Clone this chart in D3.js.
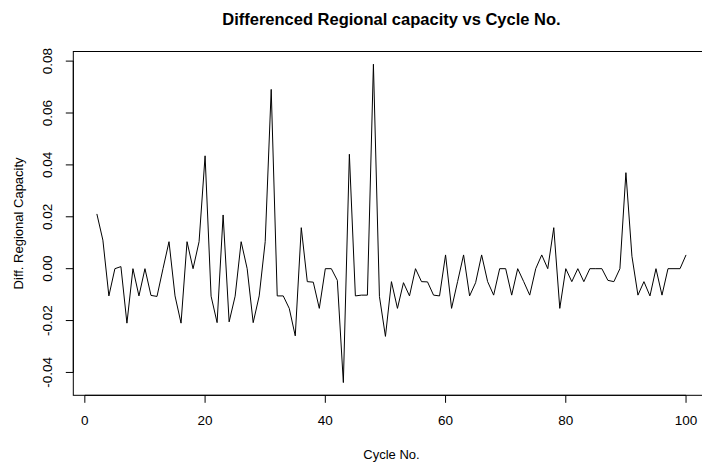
<!DOCTYPE html>
<html>
<head>
<meta charset="utf-8">
<script src="https://cdn.jsdelivr.net/npm/d3@7/dist/d3.min.js"></script>
<style>
  html, body { margin: 0; padding: 0; background: #fff; }
  svg { display: block; }
  text { font-family: "Liberation Sans", Arial, sans-serif; fill: #000; }
</style>
</head>
<body>
<svg id="chart" width="702" height="462"></svg>
<script>
// ---- data ----
const cycles = d3.range(2, 101); // 2..100
const diffCapacity = [
  0.0211, 0.0110, -0.0105, 0.0000, 0.0008, -0.0210, 0.0000, -0.0105, 0.0000, -0.0103,
  -0.0107, 0.0000, 0.0104, -0.0105, -0.0210, 0.0104, 0.0000, 0.0104, 0.0435, -0.0106,
  -0.0208, 0.0207, -0.0205, -0.0106, 0.0104, 0.0000, -0.0208, -0.0105, 0.0104, 0.0691,
  -0.0105, -0.0105, -0.0153, -0.0259, 0.0158, -0.0050, -0.0052, -0.0153, 0.0000, 0.0000,
  -0.0045, -0.0439, 0.0441, -0.0105, -0.0102, -0.0102, 0.0788, -0.0107, -0.0261, -0.0050,
  -0.0153, -0.0054, -0.0105, 0.0000, -0.0050, -0.0051, -0.0102, -0.0105, 0.0053, -0.0153,
  -0.0050, 0.0053, -0.0105, -0.0054, 0.0053, -0.0050, -0.0102, 0.0000, 0.0000, -0.0102,
  0.0000, -0.0050, -0.0102, 0.0000, 0.0053, 0.0000, 0.0158, -0.0153, 0.0000, -0.0050,
  0.0000, -0.0050, 0.0000, 0.0000, 0.0000, -0.0045, -0.0050, 0.0000, 0.0370, 0.0048,
  -0.0102, -0.0050, -0.0105, 0.0000, -0.0102, 0.0000, 0.0000, 0.0000, 0.0053
];
const xTicks = [0, 20, 40, 60, 80, 100];
const yTicks = [-0.04, -0.02, 0.00, 0.02, 0.04, 0.06, 0.08];
const titleText = "Differenced Regional capacity vs Cycle No.";
const xLabel = "Cycle No.";
const yLabel = "Diff. Regional Capacity";

// ---- layout ----
const plot = { left: 73.3, right: 709.6, top: 51.5, bottom: 395.3 };
const svg = d3.select("#chart");

// R-style 4% range extension
function ext(arr) {
  const [a, b] = d3.extent(arr);
  const d = (b - a) * 0.04;
  return [a - d, b + d];
}
const x = d3.scaleLinear().domain(ext(cycles)).range([plot.left, plot.right]);
const y = d3.scaleLinear().domain(ext(diffCapacity)).range([plot.bottom, plot.top]);

const fmt = v => {
  const s = Math.abs(v).toFixed(2);
  return (v < -1e-9 ? "-" : "") + s;
};

// box
svg.append("rect")
  .attr("x", plot.left).attr("y", plot.top)
  .attr("width", plot.right - plot.left).attr("height", plot.bottom - plot.top)
  .attr("fill", "none").attr("stroke", "#000").attr("stroke-width", 1);

// x axis
const xAxis = svg.append("g").attr("transform", `translate(0,${plot.bottom})`);
xAxis.append("line")
  .attr("x1", x(xTicks[0])).attr("x2", x(xTicks[xTicks.length - 1]))
  .attr("y1", 0).attr("y2", 0).attr("stroke", "#000");
xTicks.forEach(t => {
  xAxis.append("line").attr("x1", x(t)).attr("x2", x(t)).attr("y1", 0).attr("y2", 7.5).attr("stroke", "#000");
  xAxis.append("text").attr("x", x(t)).attr("y", 30).attr("text-anchor", "middle")
    .attr("font-size", 13.5).text(t);
});

// y axis
const yAxis = svg.append("g").attr("transform", `translate(${plot.left},0)`);
yAxis.append("line")
  .attr("x1", 0).attr("x2", 0)
  .attr("y1", y(yTicks[0])).attr("y2", y(yTicks[yTicks.length - 1])).attr("stroke", "#000");
yTicks.forEach(t => {
  yAxis.append("line").attr("x1", 0).attr("x2", -7.5).attr("y1", y(t)).attr("y2", y(t)).attr("stroke", "#000");
  yAxis.append("text")
    .attr("transform", `translate(${-21},${y(t)}) rotate(-90)`)
    .attr("text-anchor", "middle").attr("font-size", 13.5).text(fmt(t));
});

// line
const line = d3.line().x((d, i) => x(cycles[i])).y(d => y(d));
svg.append("path").datum(diffCapacity)
  .attr("d", line).attr("fill", "none").attr("stroke", "#000").attr("stroke-width", 1);

// titles
const cx = (plot.left + plot.right) / 2;
svg.append("text").attr("x", cx).attr("y", 25).attr("text-anchor", "middle")
  .attr("font-size", 16.5).attr("font-weight", "bold").text(titleText);
svg.append("text").attr("x", cx).attr("y", 459).attr("text-anchor", "middle")
  .attr("font-size", 13).text(xLabel);
svg.append("text").attr("transform", `translate(23,${(plot.top + plot.bottom) / 2}) rotate(-90)`)
  .attr("text-anchor", "middle").attr("font-size", 13).text(yLabel);
</script>
</body>
</html>
